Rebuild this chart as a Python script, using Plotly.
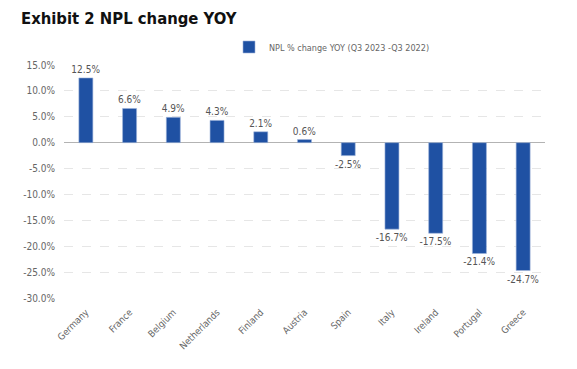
import plotly.graph_objects as go

countries = ["Germany", "France", "Belgium", "Netherlands", "Finland", "Austria",
             "Spain", "Italy", "Ireland", "Portugal", "Greece"]
npl_change = [12.5, 6.6, 4.9, 4.3, 2.1, 0.6, -2.5, -16.7, -17.5, -21.4, -24.7]
tick_vals = [15, 10, 5, 0, -5, -10, -15, -20, -25, -30]
tick_text = ["15.0%", "10.0%", "5.0%", "0.0%", "-5.0%", "-10.0%", "-15.0%",
             "-20.0%", "-25.0%", "-30.0%"]

FONT = "DejaVu Sans Condensed, Liberation Sans Narrow, sans-serif"
OFF = 8  # page body margin offset

W, H = 577, 369
plot_l, plot_r, plot_t, plot_b = 64 - OFF, 545 - OFF, 65 - OFF, 298 - OFF

fig = go.Figure()
fig.add_trace(go.Bar(
    x=countries, y=npl_change,
    name="NPL % change YOY (Q3 2023 -Q3 2022)",
    marker=dict(color="#1f51a3", line=dict(color="#9db3da", width=0.6)),
    width=0.32,
    text=[f"{v:.1f}%" for v in npl_change],
    textposition="outside",
    constraintext="none",
    textfont=dict(family=FONT, size=10, color="#555555"),
    cliponaxis=False,
))

fig.update_layout(
    width=W, height=H,
    margin=dict(l=plot_l, r=W - plot_r, t=plot_t, b=H - plot_b, autoexpand=False),
    paper_bgcolor="white", plot_bgcolor="white",
    font=dict(family=FONT, size=10, color="#666666"),
    title=dict(text="<b>Exhibit 2 NPL change YOY</b>", x=(21 - OFF) / W, xref="container",
               xanchor="left", y=1 - (18 - OFF) / H, yref="container", yanchor="middle",
               font=dict(family=FONT, size=16.5, color="#111111")),
    showlegend=True,
    legend=dict(orientation="h", x=(229 - OFF) / W, xref="container", xanchor="left",
                y=1 - (47 - OFF) / H, yref="container", yanchor="middle",
                font=dict(family=FONT, size=9, color="#666666"),
                itemwidth=30, bgcolor="rgba(0,0,0,0)"),
    bargap=0.68,
)

fig.update_yaxes(range=[-30, 15], tickvals=tick_vals, ticktext=tick_text,
                 showgrid=True, gridcolor="#e6e6e6", griddash="dash", gridwidth=1,
                 zeroline=True, zerolinecolor="#b3b3b3", zerolinewidth=1,
                 tickfont=dict(family=FONT, size=10, color="#666666"),
                 ticks="", showline=False, ticklabelstandoff=8)
fig.update_xaxes(tickangle=-45, tickfont=dict(family=FONT, size=9.5, color="#666666"),
                 showgrid=False, showline=False, ticks="", ticklabelstandoff=6)

fig.write_html("out.html")
